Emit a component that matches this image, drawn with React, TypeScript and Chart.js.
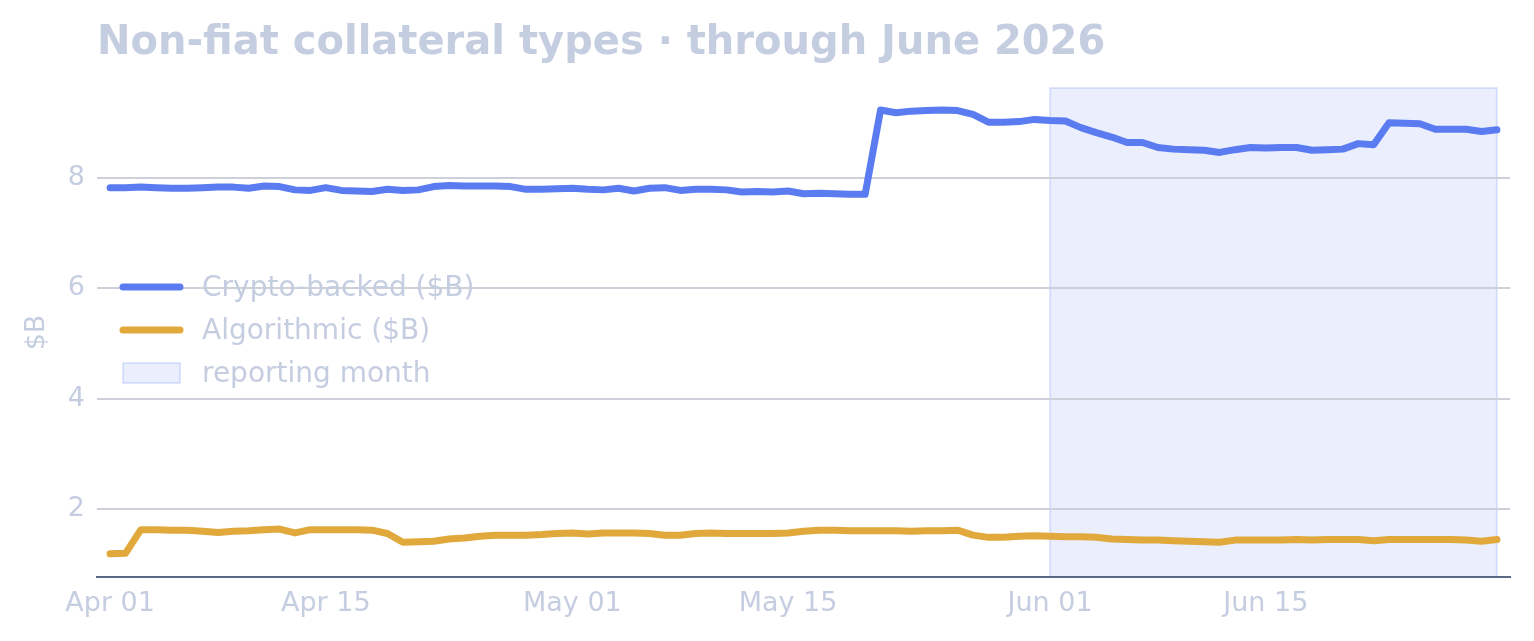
import React, { useEffect, useRef } from "react";
import { Chart, registerables } from "chart.js";

Chart.register(...registerables);

const TITLE = "Non-fiat collateral types · through June 2026";
const Y_TITLE = "$B";

// Day index 0 = Apr 01, 90 = Jun 30
const X_TICK_DAYS = [0, 14, 30, 44, 61, 75];
const X_TICK_LABELS = ["Apr 01", "Apr 15", "May 01", "May 15", "Jun 01", "Jun 15"];
const Y_TICKS = [2, 4, 6, 8];
const Y_MIN = 0.76;
const Y_MAX = 9.64;
const X_MIN = -0.85;
const X_MAX = 90.85;

const REPORT_START = 61; // Jun 01
const REPORT_END = 90; // Jun 30

const SERIES_NAMES = ["Crypto-backed ($B)", "Algorithmic ($B)"];
const SHADE_NAME = "reporting month";

const cryptoBacked = [
  7.83, 7.83, 7.84, 7.83, 7.82, 7.82, 7.83, 7.84, 7.84, 7.82,
  7.86, 7.85, 7.79, 7.78, 7.83, 7.78, 7.77, 7.76, 7.80, 7.78,
  7.79, 7.85, 7.87, 7.86, 7.86, 7.86, 7.85, 7.80, 7.80, 7.81,
  7.82, 7.80, 7.79, 7.82, 7.77, 7.82, 7.83, 7.78, 7.80, 7.80,
  7.79, 7.75, 7.76, 7.75, 7.77, 7.72, 7.73, 7.72, 7.71, 7.71,
  9.24, 9.19, 9.22, 9.23, 9.24, 9.23, 9.16, 9.02, 9.02, 9.03,
  9.07, 9.05, 9.04, 8.92, 8.83, 8.75, 8.65, 8.65, 8.56, 8.53,
  8.52, 8.51, 8.47, 8.52, 8.56, 8.55, 8.56, 8.56, 8.51, 8.52,
  8.53, 8.63, 8.61, 9.01, 9.00, 8.99, 8.89, 8.89, 8.89, 8.85,
  8.88,
];

const algorithmic = [
  1.18, 1.19, 1.62, 1.62, 1.61, 1.61, 1.59, 1.57, 1.59, 1.60,
  1.62, 1.63, 1.56, 1.62, 1.62, 1.62, 1.62, 1.61, 1.55, 1.39,
  1.40, 1.41, 1.45, 1.47, 1.50, 1.52, 1.52, 1.52, 1.53, 1.55,
  1.56, 1.54, 1.56, 1.56, 1.56, 1.55, 1.52, 1.52, 1.55, 1.56,
  1.55, 1.55, 1.55, 1.55, 1.56, 1.59, 1.61, 1.61, 1.60, 1.60,
  1.60, 1.60, 1.59, 1.60, 1.60, 1.61, 1.52, 1.48, 1.48, 1.50,
  1.51, 1.50, 1.49, 1.49, 1.48, 1.45, 1.44, 1.43, 1.43, 1.42,
  1.41, 1.40, 1.39, 1.43, 1.43, 1.43, 1.43, 1.44, 1.43, 1.44,
  1.44, 1.44, 1.42, 1.44, 1.44, 1.44, 1.44, 1.44, 1.43, 1.41,
  1.44,
];

const BLUE = "#5b7cf0";
const ORANGE = "#e1a83c";
const TEXT = "#c5cde0";
const GRID = "#cdcfd9";
const AXIS = "#5a6a85";
const SHADE_FILL = "rgba(91,124,240,0.13)";
const SHADE_EDGE = "rgba(91,124,240,0.18)";
const FONT = "'DejaVu Sans', sans-serif";

const shadePlugin = {
  id: "shade",
  beforeDraw(chart: any) {
    const { ctx, chartArea, scales } = chart;
    const x0 = scales.x.getPixelForValue(REPORT_START);
    const x1 = scales.x.getPixelForValue(REPORT_END);
    ctx.save();
    ctx.fillStyle = SHADE_FILL;
    ctx.fillRect(x0, chartArea.top, x1 - x0, chartArea.bottom - chartArea.top);
    ctx.strokeStyle = SHADE_EDGE;
    ctx.lineWidth = 2;
    ctx.strokeRect(x0, chartArea.top, x1 - x0, chartArea.bottom - chartArea.top);
    ctx.restore();
  },
};

const titleLegendPlugin = {
  id: "titleLegend",
  afterDraw(chart: any) {
    const { ctx, chartArea } = chart;
    ctx.save();
    // title
    ctx.fillStyle = TEXT;
    ctx.font = `bold 40px ${FONT}`;
    ctx.textBaseline = "alphabetic";
    ctx.textAlign = "left";
    ctx.fillText(TITLE, chartArea.left, 54);

    // legend
    const lx0 = chartArea.left + 26;
    const lx1 = lx0 + 57;
    const tx = lx1 + 22;
    const rows = [287, 330, 373];
    ctx.lineCap = "round";
    ctx.lineWidth = 7;
    ctx.strokeStyle = BLUE;
    ctx.beginPath();
    ctx.moveTo(lx0, rows[0]);
    ctx.lineTo(lx1, rows[0]);
    ctx.stroke();
    ctx.strokeStyle = ORANGE;
    ctx.beginPath();
    ctx.moveTo(lx0, rows[1]);
    ctx.lineTo(lx1, rows[1]);
    ctx.stroke();
    ctx.fillStyle = SHADE_FILL;
    ctx.fillRect(lx0, rows[2] - 10, lx1 - lx0, 20);
    ctx.strokeStyle = SHADE_EDGE;
    ctx.lineWidth = 2;
    ctx.lineCap = "butt";
    ctx.strokeRect(lx0, rows[2] - 10, lx1 - lx0, 20);

    ctx.fillStyle = TEXT;
    ctx.font = `28px ${FONT}`;
    ctx.textBaseline = "middle";
    ctx.fillText(SERIES_NAMES[0], tx, rows[0] + 2);
    ctx.fillText(SERIES_NAMES[1], tx, rows[1] + 2);
    ctx.fillText(SHADE_NAME, tx, rows[2] + 2);
    ctx.restore();
  },
};

export default function App() {
  const ref = useRef<HTMLCanvasElement>(null);

  useEffect(() => {
    if (!ref.current) return;
    const dayIdx = cryptoBacked.map((_, i) => i);
    const chart = new Chart(ref.current, {
      type: "line",
      data: {
        datasets: [
          {
            label: SERIES_NAMES[0],
            data: dayIdx.map((d) => ({ x: d, y: cryptoBacked[d] })),
            borderColor: BLUE,
            backgroundColor: BLUE,
            borderWidth: 7,
            pointRadius: 0,
            tension: 0,
            borderCapStyle: "round",
            borderJoinStyle: "round",
          },
          {
            label: SERIES_NAMES[1],
            data: dayIdx.map((d) => ({ x: d, y: algorithmic[d] })),
            borderColor: ORANGE,
            backgroundColor: ORANGE,
            borderWidth: 7,
            pointRadius: 0,
            tension: 0,
            borderCapStyle: "round",
            borderJoinStyle: "round",
          },
        ],
      },
      options: {
        animation: false,
        responsive: false,
        maintainAspectRatio: false,
        layout: { padding: { left: 0, top: 88, right: 24, bottom: 0 } },
        plugins: {
          legend: { display: false },
          title: { display: false },
          tooltip: { enabled: false },
        },
        scales: {
          x: {
            type: "linear",
            min: X_MIN,
            max: X_MAX,
            afterBuildTicks: (s: any) => {
              s.ticks = X_TICK_DAYS.map((v) => ({ value: v }));
            },
            afterFit: (s: any) => {
              s.height = 64;
            },
            grid: { display: false, drawTicks: false },
            border: { display: true, color: AXIS, width: 2 },
            ticks: {
              autoSkip: false,
              maxRotation: 0,
              padding: 11,
              color: TEXT,
              font: { family: FONT, size: 27 },
              callback: (v: any) => {
                const i = X_TICK_DAYS.indexOf(Number(v));
                return i >= 0 ? X_TICK_LABELS[i] : "";
              },
            },
          },
          y: {
            type: "linear",
            min: Y_MIN,
            max: Y_MAX,
            afterBuildTicks: (s: any) => {
              s.ticks = Y_TICKS.map((v) => ({ value: v }));
            },
            afterFit: (s: any) => {
              s.width = 97;
            },
            grid: { color: GRID, lineWidth: 2, drawTicks: false },
            border: { display: false },
            ticks: {
              padding: 12,
              color: TEXT,
              font: { family: FONT, size: 27 },
            },
            title: {
              display: true,
              text: Y_TITLE,
              color: TEXT,
              font: { family: FONT, size: 27 },
              padding: { top: 21, bottom: 0 },
            },
          },
        },
      },
      plugins: [shadePlugin, titleLegendPlugin],
    });
    return () => chart.destroy();
  }, []);

  return (
    <div style={{ position: "fixed", left: 0, top: 0, width: 1534, height: 641, background: "#fff" }}>
      <canvas ref={ref} width={1534} height={641} style={{ width: 1534, height: 641, display: "block" }} />
    </div>
  );
}
